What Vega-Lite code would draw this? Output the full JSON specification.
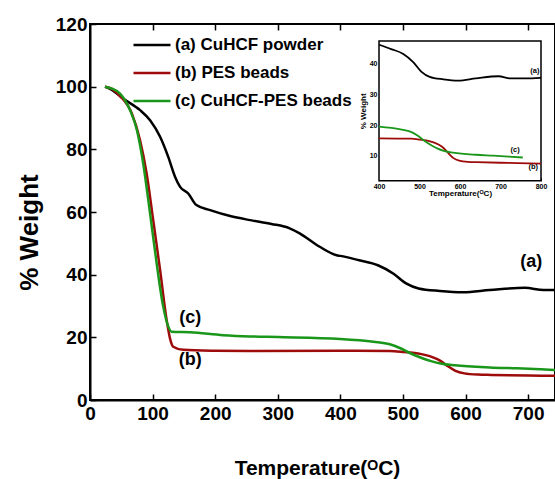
{
  "$schema": "https://vega.github.io/schema/vega-lite/v6.json",
  "width": 465,
  "height": 376,
  "autosize": "none",
  "padding": {"left": 90, "top": 24, "right": 0, "bottom": 79},
  "background": "white",
  "config": {
    "font": "Liberation Sans",
    "view": {"stroke": "black", "strokeWidth": 2},
    "axis": {"grid": false, "labelFontWeight": "bold", "titleFontWeight": "bold", "labelColor": "black", "titleColor": "black", "domainColor": "black", "tickColor": "black", "labelFlush": false, "labelOverlap": false}
  },
  "datasets": {
    "tga": [
      {"series": "(a) CuHCF powder", "T": 24, "W": 100},
      {"series": "(a) CuHCF powder", "T": 35, "W": 99},
      {"series": "(a) CuHCF powder", "T": 53, "W": 96.2},
      {"series": "(a) CuHCF powder", "T": 80, "W": 92.5},
      {"series": "(a) CuHCF powder", "T": 96, "W": 89.3},
      {"series": "(a) CuHCF powder", "T": 112, "W": 84},
      {"series": "(a) CuHCF powder", "T": 125, "W": 77.6},
      {"series": "(a) CuHCF powder", "T": 136, "W": 71.2},
      {"series": "(a) CuHCF powder", "T": 144, "W": 68},
      {"series": "(a) CuHCF powder", "T": 157, "W": 65.9},
      {"series": "(a) CuHCF powder", "T": 170, "W": 62.2},
      {"series": "(a) CuHCF powder", "T": 192, "W": 60.6},
      {"series": "(a) CuHCF powder", "T": 224, "W": 58.7},
      {"series": "(a) CuHCF powder", "T": 256, "W": 57.4},
      {"series": "(a) CuHCF powder", "T": 290, "W": 56.2},
      {"series": "(a) CuHCF powder", "T": 319, "W": 54.8},
      {"series": "(a) CuHCF powder", "T": 335, "W": 53.2},
      {"series": "(a) CuHCF powder", "T": 367, "W": 48.9},
      {"series": "(a) CuHCF powder", "T": 394, "W": 46.2},
      {"series": "(a) CuHCF powder", "T": 400, "W": 46},
      {"series": "(a) CuHCF powder", "T": 430, "W": 44.6},
      {"series": "(a) CuHCF powder", "T": 460, "W": 43},
      {"series": "(a) CuHCF powder", "T": 485, "W": 40.3},
      {"series": "(a) CuHCF powder", "T": 505, "W": 37.2},
      {"series": "(a) CuHCF powder", "T": 525, "W": 35.6},
      {"series": "(a) CuHCF powder", "T": 559, "W": 34.8},
      {"series": "(a) CuHCF powder", "T": 596, "W": 34.4},
      {"series": "(a) CuHCF powder", "T": 639, "W": 35.1},
      {"series": "(a) CuHCF powder", "T": 695, "W": 35.8},
      {"series": "(a) CuHCF powder", "T": 725, "W": 35.1},
      {"series": "(a) CuHCF powder", "T": 760, "W": 35.1},
      {"series": "(a) CuHCF powder", "T": 800, "W": 35.3},
      {"series": "(b) PES beads", "T": 24, "W": 100},
      {"series": "(b) PES beads", "T": 35, "W": 99.3},
      {"series": "(b) PES beads", "T": 48, "W": 97},
      {"series": "(b) PES beads", "T": 67, "W": 91.4},
      {"series": "(b) PES beads", "T": 80, "W": 82.9},
      {"series": "(b) PES beads", "T": 90.5, "W": 72.3},
      {"series": "(b) PES beads", "T": 101, "W": 57.4},
      {"series": "(b) PES beads", "T": 112, "W": 41.5},
      {"series": "(b) PES beads", "T": 122.5, "W": 25.5},
      {"series": "(b) PES beads", "T": 128, "W": 19.5},
      {"series": "(b) PES beads", "T": 133, "W": 17},
      {"series": "(b) PES beads", "T": 149, "W": 16},
      {"series": "(b) PES beads", "T": 200, "W": 15.7},
      {"series": "(b) PES beads", "T": 256, "W": 15.6},
      {"series": "(b) PES beads", "T": 400, "W": 15.7},
      {"series": "(b) PES beads", "T": 479, "W": 15.6},
      {"series": "(b) PES beads", "T": 501, "W": 15.3},
      {"series": "(b) PES beads", "T": 522, "W": 14.9},
      {"series": "(b) PES beads", "T": 548, "W": 13.6},
      {"series": "(b) PES beads", "T": 560, "W": 12.5},
      {"series": "(b) PES beads", "T": 572, "W": 10.8},
      {"series": "(b) PES beads", "T": 584, "W": 9.3},
      {"series": "(b) PES beads", "T": 598, "W": 8.5},
      {"series": "(b) PES beads", "T": 620, "W": 8.1},
      {"series": "(b) PES beads", "T": 641, "W": 8},
      {"series": "(b) PES beads", "T": 700, "W": 7.8},
      {"series": "(b) PES beads", "T": 743, "W": 7.7},
      {"series": "(b) PES beads", "T": 800, "W": 7.5},
      {"series": "(c) CuHCF-PES beads", "T": 24, "W": 100},
      {"series": "(c) CuHCF-PES beads", "T": 35, "W": 99.4},
      {"series": "(c) CuHCF-PES beads", "T": 48, "W": 97.8},
      {"series": "(c) CuHCF-PES beads", "T": 64, "W": 92.5},
      {"series": "(c) CuHCF-PES beads", "T": 75, "W": 86.1},
      {"series": "(c) CuHCF-PES beads", "T": 85, "W": 75.5},
      {"series": "(c) CuHCF-PES beads", "T": 96, "W": 59.5},
      {"series": "(c) CuHCF-PES beads", "T": 106.5, "W": 43.6},
      {"series": "(c) CuHCF-PES beads", "T": 117, "W": 29.8},
      {"series": "(c) CuHCF-PES beads", "T": 125, "W": 23.5},
      {"series": "(c) CuHCF-PES beads", "T": 130.5, "W": 21.8},
      {"series": "(c) CuHCF-PES beads", "T": 160, "W": 21.6},
      {"series": "(c) CuHCF-PES beads", "T": 213, "W": 20.7},
      {"series": "(c) CuHCF-PES beads", "T": 256, "W": 20.3},
      {"series": "(c) CuHCF-PES beads", "T": 300, "W": 20.1},
      {"series": "(c) CuHCF-PES beads", "T": 400, "W": 19.5},
      {"series": "(c) CuHCF-PES beads", "T": 453, "W": 18.6},
      {"series": "(c) CuHCF-PES beads", "T": 479, "W": 17.8},
      {"series": "(c) CuHCF-PES beads", "T": 495, "W": 16.6},
      {"series": "(c) CuHCF-PES beads", "T": 511, "W": 15},
      {"series": "(c) CuHCF-PES beads", "T": 530, "W": 13.4},
      {"series": "(c) CuHCF-PES beads", "T": 545, "W": 12.4},
      {"series": "(c) CuHCF-PES beads", "T": 562, "W": 11.6},
      {"series": "(c) CuHCF-PES beads", "T": 583, "W": 11.1},
      {"series": "(c) CuHCF-PES beads", "T": 639, "W": 10.4},
      {"series": "(c) CuHCF-PES beads", "T": 682, "W": 10.1},
      {"series": "(c) CuHCF-PES beads", "T": 720, "W": 9.8},
      {"series": "(c) CuHCF-PES beads", "T": 755, "W": 9.5}
    ],
    "mainLabels": [
      {"T": 705, "W": 44, "label": "(a)"},
      {"T": 160, "W": 26.2, "label": "(c)"},
      {"T": 160, "W": 12.8, "label": "(b)"}
    ],
    "insetLabels": [
      {"T": 785, "W": 37.6, "label": "(a)"},
      {"T": 736, "W": 11.9, "label": "(c)"},
      {"T": 781, "W": 6.4, "label": "(b)"}
    ],
    "insetFrame": [
      {"T0": 400, "T1": 800, "W0": 2, "W1": 47.2}
    ]
  },
  "layer": [
    {
      "layer": [
        {
          "data": {"name": "tga"},
          "mark": {"type": "line", "strokeWidth": 2.5, "clip": true, "interpolate": "monotone"},
          "encoding": {
            "x": {"field": "T", "type": "quantitative",
              "scale": {"domain": [0, 743], "nice": false, "zero": false},
              "axis": {"orient": "bottom", "values": [0, 100, 200, 300, 400, 500, 600, 700], "labelFontSize": 19, "tickSize": -6, "tickWidth": 1.5, "domainWidth": 2, "labelPadding": 10,
                "title": "Temperature(ᴼC)", "titleFontSize": 21, "titleX": 227, "titleY": 68, "titleAlign": "center", "titleBaseline": "middle"}},
            "y": {"field": "W", "type": "quantitative",
              "scale": {"domain": [0, 120], "nice": false},
              "axis": {"orient": "left", "values": [0, 20, 40, 60, 80, 100, 120], "labelFontSize": 19, "tickSize": -6, "tickWidth": 1.5, "domainWidth": 2, "labelPadding": 9,
                "title": "% Weight", "titleFontSize": 26, "titleX": -61, "titleY": 208, "titleAlign": "center", "titleBaseline": "middle", "titleAngle": -90}},
            "color": {"field": "series", "type": "nominal",
              "scale": {"domain": ["(a) CuHCF powder", "(b) PES beads", "(c) CuHCF-PES beads"], "range": ["#000000", "#9e0b0b", "#1a961a"]},
              "legend": {"orient": "none", "legendX": 42, "legendY": 1, "title": null, "symbolType": "stroke", "symbolSize": 1369, "symbolStrokeWidth": 2.5, "labelFontSize": 17, "labelFontWeight": "bold", "labelColor": "black", "labelOffset": 3, "labelLimit": 400, "rowPadding": -16, "padding": 0}}
          }
        },
        {
          "data": {"name": "mainLabels"},
          "mark": {"type": "text", "fontSize": 18, "fontWeight": "bold", "color": "black", "align": "center", "baseline": "middle"},
          "encoding": {
            "x": {"field": "T", "type": "quantitative"},
            "y": {"field": "W", "type": "quantitative"},
            "text": {"field": "label"}
          }
        }
      ]
    },
    {
      "data": {"name": "mainLabels"},
      "mark": {"type": "point", "opacity": 0},
      "encoding": {
        "x": {"field": "T", "type": "quantitative",
          "scale": {"domain": [0, 743], "nice": false, "zero": false},
          "axis": {"orient": "top", "values": [100, 200, 300, 400, 500, 600, 700], "labels": false, "domain": false, "tickSize": -6, "tickWidth": 1.5, "title": null}}
      }
    },
    {
      "layer": [
        {
          "data": {"name": "insetFrame"},
          "mark": {"type": "rect", "fill": "white", "stroke": "black", "strokeWidth": 1.5},
          "encoding": {
            "x": {"field": "T0", "type": "quantitative",
              "scale": {"domain": [400, 800], "range": [289, 451], "nice": false, "zero": false},
              "axis": {"orient": "bottom", "offset": -219.3, "values": [400, 500, 600, 700, 800], "labelFontSize": 7, "tickSize": -3, "labelPadding": 5, "domain": false,
                "title": "Temperature(ᴼC)", "titleFontSize": 8, "titlePadding": 0}},
            "x2": {"field": "T1"},
            "y": {"field": "W0", "type": "quantitative",
              "scale": {"domain": [2, 47.2], "range": [156.7, 17], "nice": false, "zero": false},
              "axis": {"orient": "left", "offset": -289, "values": [10, 20, 30, 40], "labelFontSize": 7, "tickSize": -3, "labelPadding": 5, "domain": false,
                "title": "% Weight", "titleFontSize": 8, "titlePadding": 2}},
            "y2": {"field": "W1"}
          }
        },
        {
          "data": {"name": "tga"},
          "transform": [{"filter": "datum.T >= 400"}],
          "mark": {"type": "line", "strokeWidth": 1.8, "interpolate": "monotone"},
          "encoding": {
            "x": {"field": "T", "type": "quantitative"},
            "y": {"field": "W", "type": "quantitative"},
            "color": {"field": "series", "type": "nominal", "legend": null}
          }
        },
        {
          "data": {"name": "insetLabels"},
          "mark": {"type": "text", "fontSize": 7.5, "fontWeight": "bold", "color": "black", "align": "center", "baseline": "middle"},
          "encoding": {
            "x": {"field": "T", "type": "quantitative"},
            "y": {"field": "W", "type": "quantitative"},
            "text": {"field": "label"}
          }
        }
      ]
    }
  ],
  "resolve": {"scale": {"x": "independent", "y": "independent"}}
}
